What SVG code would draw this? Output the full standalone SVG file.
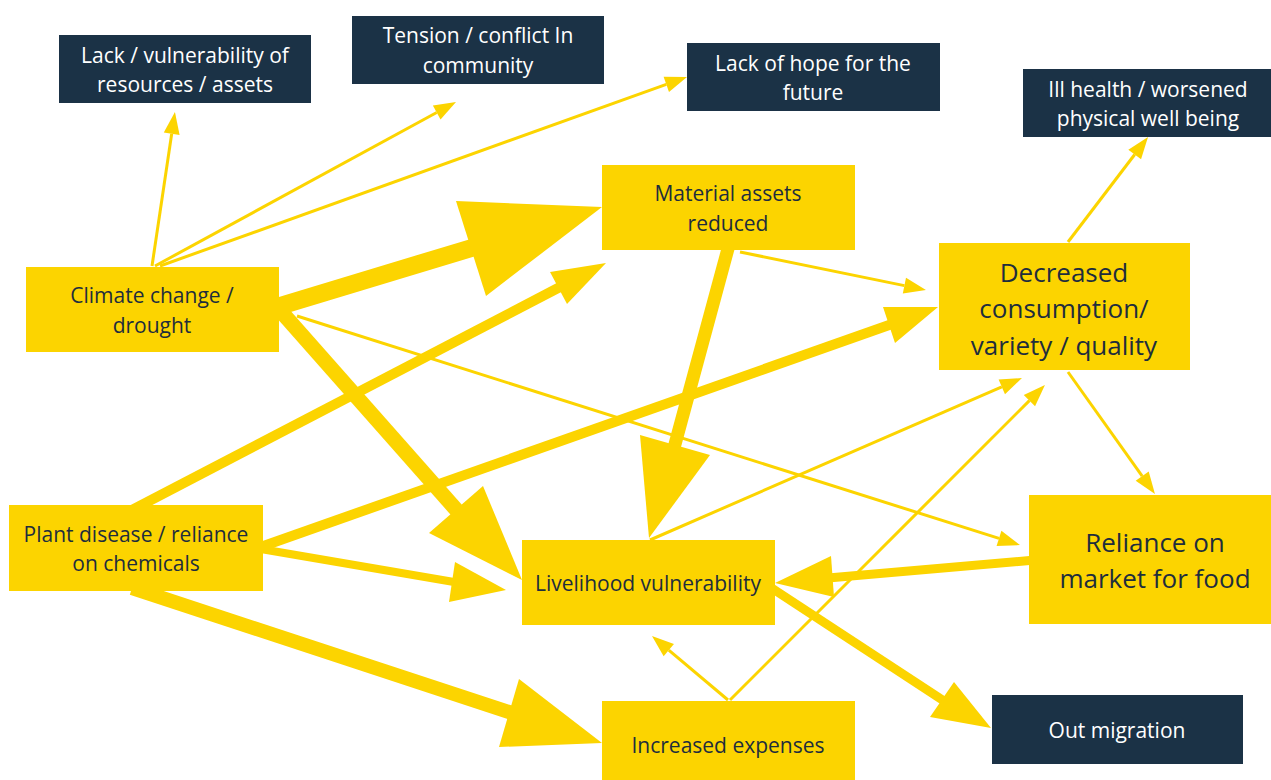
<svg xmlns="http://www.w3.org/2000/svg" width="1271" height="780" viewBox="0 0 1271 780">
<style>
.y{fill:#FCD400}
.n{fill:#1B3246}
.ty{fill:#1E2D3D;font-family:"Open Sans","Noto Sans","Liberation Sans",sans-serif;font-size:21px;text-anchor:middle}
.tn{fill:#FFFFFF;font-family:"Open Sans","Noto Sans","Liberation Sans",sans-serif;font-size:21px;text-anchor:middle}
.big{font-size:26px}
.thin{stroke:#FCD400;stroke-width:3;fill:none;marker-end:url(#ah)}
.sh{stroke:#FCD400;fill:none;stroke-linecap:butt}
.hd{fill:#FCD400}
</style>
<defs>
<marker id="ah" markerUnits="userSpaceOnUse" markerWidth="22" markerHeight="16" refX="0" refY="8" orient="auto" overflow="visible">
<path d="M0,0 L22,8 L0,16 Z" fill="#FCD400"/>
</marker>
</defs>
<rect width="1271" height="780" fill="#FFFFFF"/>
<g id="connectors">
<line class="thin" x1="152" y1="266" x2="171.7" y2="133.8"/>
<line class="thin" x1="155" y1="266" x2="436.7" y2="112.5"/>
<line class="thin" x1="160" y1="266" x2="666.3" y2="84.4"/>
<line class="thin" x1="297" y1="316" x2="999" y2="538.4"/>
<line class="thin" x1="740" y1="252" x2="904.4" y2="285.6"/>
<line class="thin" x1="1068" y1="242" x2="1134.7" y2="154.5"/>
<line class="thin" x1="1068" y1="372" x2="1142.2" y2="476.1"/>
<line class="thin" x1="650" y1="540" x2="1001.8" y2="386.8"/>
<line class="thin" x1="730" y1="700" x2="1029.4" y2="400.6"/>
<line class="thin" x1="728" y1="700" x2="668.8" y2="650.2"/>
<line class="sh" stroke-width="18" x1="270" y1="309" x2="475" y2="247"/>
<polygon class="hd" points="456,201 602,207 486,296"/>
<line class="sh" stroke-width="15" x1="278" y1="308" x2="460" y2="514"/>
<polygon class="hd" points="483,486 522,580 429,533"/>
<line class="sh" stroke-width="10" x1="132" y1="510" x2="560" y2="287"/>
<polygon class="hd" points="550,272 606,263 567,304"/>
<line class="sh" stroke-width="10" x1="255" y1="549" x2="892" y2="324"/>
<polygon class="hd" points="883,307 938,307 895,343"/>
<line class="sh" stroke-width="8" x1="255" y1="548" x2="454" y2="582"/>
<polygon class="hd" points="455,562 506,590 449,602"/>
<line class="sh" stroke-width="14" x1="132" y1="588" x2="512" y2="713"/>
<polygon class="hd" points="519,679 602,743 499,747"/>
<line class="sh" stroke-width="13" x1="729" y1="245" x2="674" y2="448"/>
<polygon class="hd" points="640,435 710,455 649,538"/>
<line class="sh" stroke-width="9" x1="1035" y1="560" x2="828" y2="578"/>
<polygon class="hd" points="831,556 775,583 834,597"/>
<line class="sh" stroke-width="9" x1="770" y1="587" x2="944" y2="701"/>
<polygon class="hd" points="954,682 991,728 930,717"/>
</g>
<g id="n-lack-resources"><rect class="n" x="59" y="35" width="252" height="68"/><text class="tn" x="185" y="63">Lack / vulnerability of</text><text class="tn" x="185" y="92">resources / assets</text></g>
<g id="n-tension"><rect class="n" x="352" y="16" width="252" height="68"/><text class="tn" x="478" y="43">Tension / conflict In</text><text class="tn" x="478" y="73">community</text></g>
<g id="n-hope"><rect class="n" x="687" y="43" width="253" height="68"/><text class="tn" x="813" y="71">Lack of hope for the</text><text class="tn" x="813" y="100">future</text></g>
<g id="n-health"><rect class="n" x="1023" y="69" width="248" height="68"/><text class="tn" x="1148" y="97">Ill health / worsened</text><text class="tn" x="1148" y="126">physical well being</text></g>
<g id="n-climate"><rect class="y" x="26" y="267" width="253" height="85"/><text class="ty" x="152" y="303">Climate change /</text><text class="ty" x="152" y="333">drought</text></g>
<g id="n-material"><rect class="y" x="602" y="165" width="253" height="85"/><text class="ty" x="728" y="201">Material assets</text><text class="ty" x="728" y="231">reduced</text></g>
<g id="n-decreased"><rect class="y" x="939" y="243" width="251" height="127"/><text class="ty big" x="1064" y="282">Decreased</text><text class="ty big" x="1064" y="318">consumption/</text><text class="ty big" x="1064" y="355">variety / quality</text></g>
<g id="n-plant"><rect class="y" x="9" y="505" width="254" height="86"/><text class="ty" x="136" y="542">Plant disease / reliance</text><text class="ty" x="136" y="571">on chemicals</text></g>
<g id="n-livelihood"><rect class="y" x="522" y="540" width="253" height="85"/><text class="ty" x="648" y="591">Livelihood vulnerability</text></g>
<g id="n-reliance"><rect class="y" x="1029" y="495" width="242" height="129"/><text class="ty big" x="1155" y="552">Reliance on</text><text class="ty big" x="1155" y="588">market for food</text></g>
<g id="n-expenses"><rect class="y" x="602" y="701" width="253" height="79"/><text class="ty" x="728" y="753">Increased expenses</text></g>
<g id="n-migration"><rect class="n" x="992" y="695" width="251" height="69"/><text class="tn" x="1117" y="738">Out migration</text></g>
</svg>
